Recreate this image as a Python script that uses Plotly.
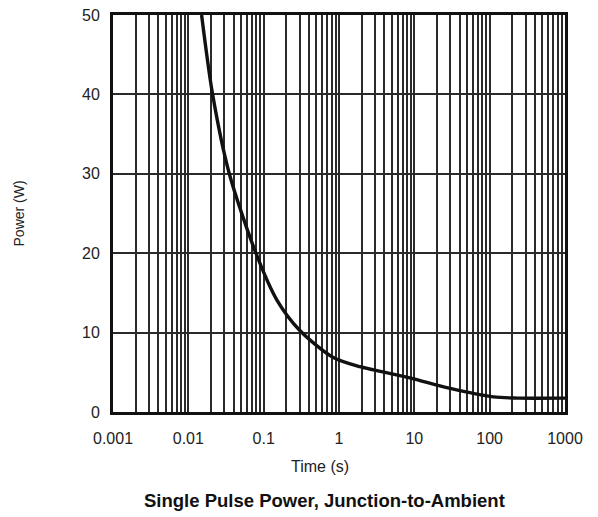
import plotly.graph_objects as go

time_s = [0.015, 0.021, 0.035, 0.079, 0.15, 0.3, 0.83, 1.9, 8.7, 29, 112, 234, 1000]
power_w = [50, 40, 30, 20, 14.1, 10.3, 6.9, 5.7, 4.3, 3.0, 1.9, 1.75, 1.75]

x_tickvals = [0.001, 0.01, 0.1, 1, 10, 100, 1000]
x_ticktext = ["0.001", "0.01", "0.1", "1", "10", "100", "1000"]
y_tickvals = [0, 10, 20, 30, 40, 50]

FONT = "Liberation Sans, Arial, sans-serif"
GRID = "#2a2a2a"
TXT = "#222222"

fig = go.Figure()
fig.add_trace(go.Scatter(
    x=time_s, y=power_w, mode="lines",
    line=dict(color="#111111", width=3.4, shape="spline", smoothing=0.8),
    showlegend=False, cliponaxis=True,
))

# page body has an 8px margin, so the figure is 8px smaller and margins shifted
fig.update_layout(
    width=590, height=509,
    margin=dict(l=105, r=33, t=7, b=105),
    paper_bgcolor="white", plot_bgcolor="white",
    font=dict(family=FONT, size=15, color=TXT),
    xaxis=dict(
        type="log", range=[-3, 3], automargin=False,
        tickvals=x_tickvals, ticktext=x_ticktext,
        showgrid=True, gridcolor=GRID, gridwidth=1.5,
        minor=dict(dtick="D1", showgrid=True, gridcolor=GRID, gridwidth=1.5, ticks=""),
        showline=True, linecolor="#111111", linewidth=3, mirror=True,
        ticks="", ticklabelstandoff=10, ticklabeloverflow="allow",
        tickfont=dict(size=16, color=TXT),
        zeroline=False,
    ),
    yaxis=dict(
        range=[0, 50], tickvals=y_tickvals, automargin=False,
        showgrid=True, gridcolor=GRID, gridwidth=1.5,
        showline=True, linecolor="#111111", linewidth=3, mirror=True,
        ticks="", ticklabelstandoff=7, ticklabeloverflow="allow",
        tickfont=dict(size=16, color=TXT),
        zeroline=False,
    ),
    annotations=[
        dict(text="Time (s)", xref="paper", yref="paper", x=0.458, y=-0.1385,
             showarrow=False, font=dict(size=16, color=TXT),
             xanchor="center", yanchor="middle"),
        dict(text="Power (W)", xref="paper", yref="paper", x=-0.208, y=0.5,
             showarrow=False, textangle=-90, font=dict(size=14, color=TXT),
             xanchor="center", yanchor="middle"),
        dict(text="<b>Single Pulse Power, Junction-to-Ambient</b>", xref="paper", yref="paper",
             x=0.469, y=-0.2217, showarrow=False, font=dict(size=18.5, color="#111111"),
             xanchor="center", yanchor="middle"),
    ],
)

fig.write_html("out.html")
